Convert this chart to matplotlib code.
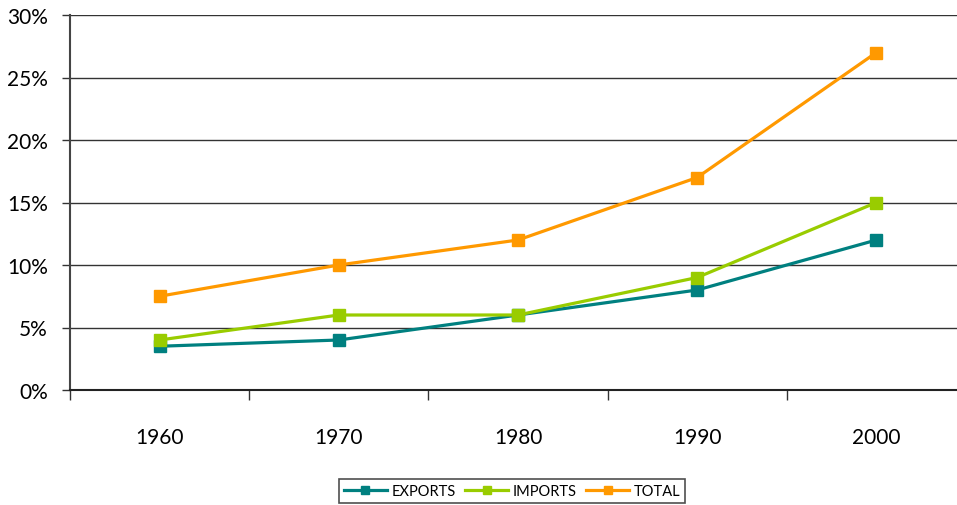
import matplotlib.pyplot as plt
import numpy as np
from matplotlib.ticker import FixedLocator, FuncFormatter

years = ["1960", "1970", "1980", "1990", "2000"]
exports = [3.5, 4, 6, 8, 12]
imports = [4, 6, 6, 9, 15]
total = [7.5, 10, 12, 17, 27]

plt.rcParams['font.family'] = ['Lato', 'DejaVu Sans']

fig = plt.figure(figsize=(9.57, 5.06), dpi=100)
# plot area runs slightly past the right edge, like the original
ax = fig.add_axes([70 / 957, (506 - 391) / 506, (966 - 70) / 957, (391 - 16) / 506])

x = np.arange(len(years))
series = [
    ("EXPORTS", exports, "#008080"),
    ("IMPORTS", imports, "#99CC00"),
    ("TOTAL", total, "#FF9900"),
]
for name, vals, col in series:
    ax.plot(x, vals, color=col, linewidth=2.3, marker='s', markersize=8, label=name)

ax.set_xlim(-0.5, len(years) - 0.5)
ax.set_ylim(0, 30)

ax.set_yticks(np.arange(0, 31, 5))
ax.yaxis.set_major_formatter(FuncFormatter(lambda v, p: f"{v:.0f}%"))
ax.grid(axis='y', color='#333333', linewidth=1)
ax.set_axisbelow(True)

# category boundaries get tick marks, labels sit in the middle
ax.xaxis.set_major_locator(FixedLocator(np.arange(-0.5, len(years), 1)))
ax.xaxis.set_major_formatter(FuncFormatter(lambda v, p: ""))
ax.xaxis.set_minor_locator(FixedLocator(x))
ax.set_xticklabels(years, minor=True)
ax.tick_params(axis='x', which='major', direction='out', length=7, width=1, color='#333333')
ax.tick_params(axis='x', which='minor', length=0, pad=27, labelsize=15)
ax.tick_params(axis='y', direction='out', length=6, width=1, color='#333333', labelsize=15, pad=10)

for s in ['top', 'right']:
    ax.spines[s].set_visible(False)
ax.spines['left'].set_color('#444444')
ax.spines['left'].set_linewidth(1.5)
ax.spines['bottom'].set_color('#222222')
ax.spines['bottom'].set_linewidth(1.5)

leg = fig.legend(loc='center', bbox_to_anchor=(512 / 957, (506 - 492) / 506), ncol=3,
                 frameon=True, fancybox=False, fontsize=10.5, handlelength=3.0,
                 handletextpad=0.3, columnspacing=0.6, borderpad=0.35, markerscale=0.8)
leg.get_frame().set_edgecolor('#222222')
leg.get_frame().set_linewidth(1.2)

fig.savefig("out.png", dpi=100)
